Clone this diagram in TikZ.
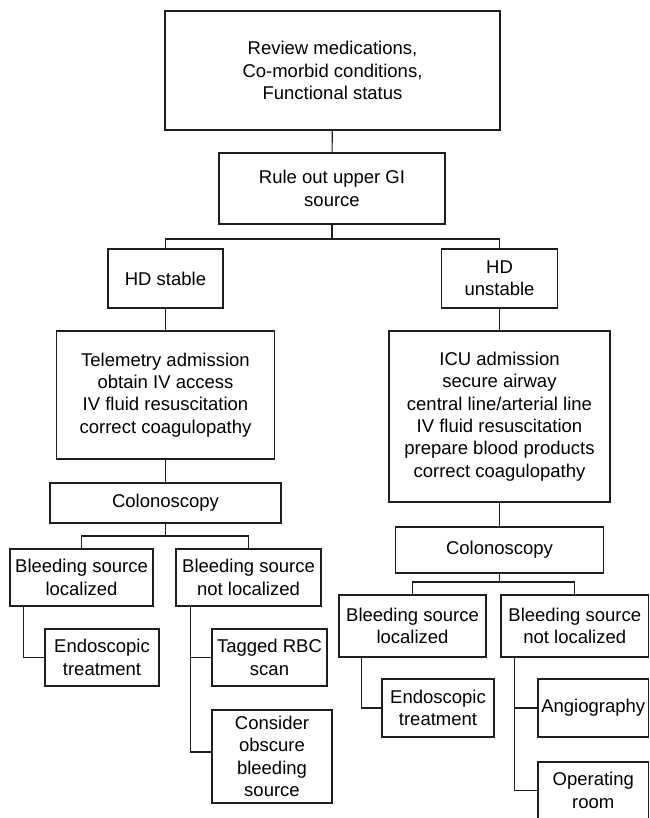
\documentclass[tikz,border=0pt]{standalone}
\usepackage{fontspec}
\setmainfont{Liberation Sans}
\usetikzlibrary{positioning}
\definecolor{ink}{HTML}{1E1E1E}
\tikzset{
  box/.style={draw=ink, line width=1.1pt, fill=white, align=center, inner sep=0pt,
              font=\fontsize{18.5}{22.3}\selectfont},
  ln/.style={draw=ink, line width=1.1pt}
}
\begin{document}
\begin{tikzpicture}[x=1pt,y=-1pt]
  \useasboundingbox (0,0) rectangle (649,818);
  \clip (0,0) rectangle (649,818);
  % boxes: name/x/y/width/height/text
  \foreach \n/\x/\y/\w/\h/\t in {
    review/332.5/70.5/335/119/{Review medications,\\Co-morbid conditions,\\Functional status},
    ruleout/332/188.5/226/71/{Rule out upper GI\\source},
    stable/165.5/278.5/115/59/{HD stable},
    unstable/499.5/278.5/116/59/{HD\\unstable},
    telemetry/165.5/395/218/128/{Telemetry admission\\obtain IV access\\IV fluid resuscitation\\correct coagulopathy},
    icu/499.5/416.5/221/171/{ICU admission\\secure airway\\central line/arterial line\\IV fluid resuscitation\\prepare blood products\\correct coagulopathy},
    colonL/165.5/503/231/40/{Colonoscopy},
    colonR/499.5/550/208/46/{Colonoscopy},
    blL/81.5/577.5/143/57/{Bleeding source\\localized},
    bnlL/248.5/577.5/145/57/{Bleeding source\\not localized},
    endoL/102/657.5/114/57/{Endoscopic\\treatment},
    tagged/269.5/657.5/115/57/{Tagged RBC\\scan},
    consider/272/756.5/120/93/{Consider\\obscure\\bleeding\\source},
    blR/412.5/626/147/62/{Bleeding source\\localized},
    bnlR/574.75/626/147.5/62/{Bleeding source\\not localized},
    endoR/438/708/112/58/{Endoscopic\\treatment},
    angio/593.25/708/110.5/58/{Angiography},
    oproom/593.25/790.5/110.5/57/{Operating\\room}} {
    \node[box, minimum width=\w pt, minimum height=\h pt] (\n) at (\x,\y) {\t};
  }
  % bus points
  \coordinate (busTop) at (332,239);
  \coordinate (busL) at (165.5,536);
  \coordinate (busR) at (499.5,582);
  % connectors
  \draw[ln] (review) -- (ruleout);
  \draw[ln] (ruleout) -- (busTop);
  \draw[ln] (busTop) -| (stable);
  \draw[ln] (busTop) -| (unstable);
  \draw[ln] (stable) -- (telemetry);
  \draw[ln] (telemetry) -- (colonL);
  \draw[ln] (unstable) -- (icu);
  \draw[ln] (icu) -- (colonR);
  \draw[ln] (colonL) -- (busL);
  \draw[ln] (busL) -| (blL);
  \draw[ln] (busL) -| (bnlL);
  \draw[ln] (colonR) -- (busR);
  \draw[ln] (busR) -| (blR);
  \draw[ln] (busR) -| (bnlR);
  \draw[ln] ([xshift=14pt]blL.south west) |- (endoL);
  \draw[ln] ([xshift=15pt]bnlL.south west) |- (tagged);
  \draw[ln] ([xshift=15pt]bnlL.south west) |- ([yshift=4.5pt]consider.west);
  \draw[ln] ([xshift=23pt]blR.south west) |- (endoR);
  \draw[ln] ([xshift=14pt]bnlR.south west) |- (angio);
  \draw[ln] ([xshift=14pt]bnlR.south west) |- (oproom);
\end{tikzpicture}
\end{document}
